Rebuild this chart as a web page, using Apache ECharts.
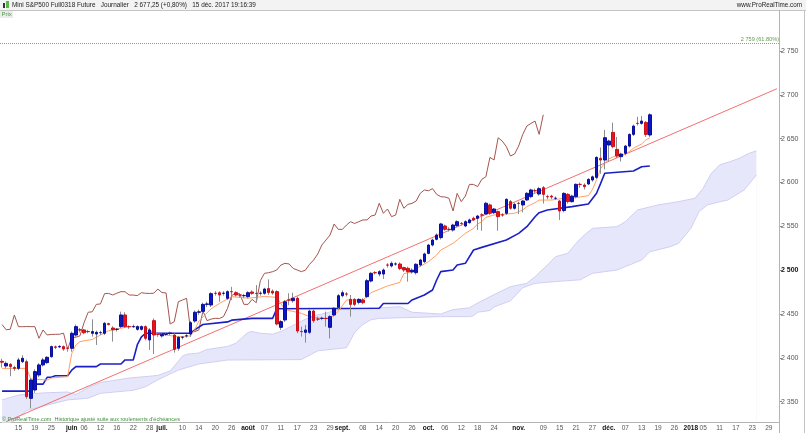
<!DOCTYPE html>
<html><head><meta charset="utf-8">
<script src="https://cdn.jsdelivr.net/npm/echarts@6.0.0/dist/echarts.min.js"></script>
<style>html,body{margin:0;padding:0;background:#fff}#c{width:806px;height:433px}</style>
</head><body><div id="c"></div>
<script>
// ---- data ----
const opens = [2396,2390.7,2392.6,2389,2388,2395.6,2395.6,2353.8,2363.3,2380.4,
2391.9,2394.5,2401.3,2412.5,2412.5,2412.8,2411,2410.9,2426,2432,
2431.8,2430,2428,2427.2,2428.7,2428,2439,2434,2432.5,2435.6,
2448.9,2435.6,2435.6,2432.5,2432.5,2435.6,2420.4,2442.4,2426.8,2425,
2426.8,2428,2426,2410.9,2423.4,2425,2427.2,2442,2452,2453,
2461,2460.3,2473.6,2474.3,2473.6,2467.9,2475.5,2474.3,2471.7,2470.9,
2469.8,2475.1,2473.6,2473.6,2473.6,2479,2476,2475.5,2434.8,2443.2,
2466,2465.2,2467.9,2430,2429.1,2429.1,2453.4,2444.3,2445,2445,
2434.8,2448.9,2457.6,2470.9,2472.8,2466.7,2466.7,2463.3,2466,2469.8,
2487.6,2497.2,2495.6,2495.6,2505.9,2504.8,2507,2507,2502.9,2502.1,
2498,2497.2,2505.9,2509.7,2519.2,2528.7,2535.2,2537.1,2550.4,2546.6,
2545.8,2550.8,2553.4,2550.4,2554.2,2559.2,2559.2,2563,2564.1,2574.4,
2565.6,2566.8,2563,2564.9,2578.2,2570.6,2576.3,2574.4,2580.1,2583.9,
2590.7,2586.9,2594.1,2583.9,2584.5,2582,2578.9,2568,2586.5,2578.2,
2583.9,2597.9,2597.1,2598.3,2602.9,2605.9,2627.6,2625.7,2642.8,2657.2,
2637.8,2629.5,2633.3,2641.6,2654.9,2667.5,2667.5,2668.6,2654.2];
const closes = [2395,2393.7,2390,2388,2397.6,2399.5,2355.7,2374.7,2384.3,2391.9,
2397.6,2400.6,2412.8,2412,2413,2410.1,2410.9,2428,2435.6,2431.8,
2428.7,2429.9,2429.9,2429.1,2428.8,2439.4,2438,2432,2432.6,2448.9,
2435.6,2435.5,2435.7,2435.6,2435.6,2422.3,2431.8,2426.1,2426.7,2426.8,
2426.9,2428.1,2409.7,2423.4,2423.5,2425.1,2440.1,2452,2452.5,2461,
2461.5,2473.2,2473.5,2471.7,2473.7,2475.5,2475.4,2471.7,2471.6,2471,
2474.3,2473.6,2473.5,2473.7,2478.5,2474.5,2474,2438.6,2441.3,2464,
2465.9,2467.9,2430.6,2429.9,2431.8,2453.4,2442.4,2444.2,2445.1,2444.9,
2447,2456.5,2470.9,2474.3,2472.7,2461,2461,2466.7,2462.9,2488,
2496.4,2497.1,2498.3,2500.2,2505.8,2507.8,2507.1,2502,2500.2,2498.3,
2500,2506.7,2511.6,2518.5,2528.7,2534.4,2540.1,2552.7,2546.6,2546.5,
2551.5,2555.3,2553.3,2555.3,2557.3,2557.3,2561.8,2562.9,2576.3,2564.9,
2569.8,2561.1,2562.9,2580.8,2570.6,2575.1,2576.2,2578.9,2587.7,2591.5,
2590.6,2593,2586.5,2583.8,2583.5,2582.1,2567.5,2587.6,2578.2,2584.5,
2597.9,2597.8,2595.3,2603.6,2606.5,2628.7,2625.7,2651.1,2647.3,2640.9,
2630.2,2632.5,2641.6,2654.9,2664.4,2667.4,2670.1,2654.9,2677.25];
const lows = [2389,2388,2379,2385,2386,2394,2353,2342.4,2360,2378,
2390,2393,2400,2410,2411,2408,2407,2407,2424,2429,
2427,2428,2424.2,2414.7,2426,2426,2437,2418.5,2430,2434,
2434,2433,2434,2431,2431,2420,2409,2404.4,2424,2423,
2425,2426,2406,2408,2421,2423,2424,2440,2449,2451,
2458,2458,2471,2464,2471,2466,2466,2470,2469,2468,
2468,2472,2464,2471,2472,2471.7,2472,2437,2431.7,2441,
2460,2463,2428,2424.2,2417.3,2427,2440,2442,2443,2435.6,
2422.2,2447,2455,2469,2470,2447,2459,2461,2461,2468,
2486,2495,2493,2490,2503,2503,2505,2500,2498,2487,
2496,2495,2504,2508,2518,2527,2534,2535,2545,2544,
2544,2549,2551,2549,2553,2556,2545.8,2545,2563,2563,
2564,2545,2561,2563,2569,2569,2564,2566,2579,2582,
2588,2585,2576,2581,2581,2580,2557.3,2566,2576,2577,
2582,2594,2592,2597,2601,2604,2610,2615,2624,2639,
2628,2624,2631,2640,2653,2665,2666,2652,2652];
const highs = [2399,2396,2394,2391,2400,2403,2398,2377,2387,2394,
2400,2402,2414,2414,2414.5,2414,2412,2430,2438,2434,
2433,2432,2443.9,2431,2431,2441,2440,2436,2434,2452.7,
2452,2437,2438,2437,2437,2437,2434,2445,2429,2428,
2428,2430,2428,2425,2425,2427,2442,2454,2455,2463,
2464,2475,2476,2476,2476,2477,2481,2476,2474,2473,
2476,2477,2483,2476,2480,2489.5,2478,2477,2443,2466,
2473.6,2474.3,2470,2435.6,2437.5,2455,2455,2447,2447,2452.7,
2449,2458,2473,2477,2475,2471.7,2468,2468,2468,2490,
2498,2499,2500,2502,2508,2510,2509,2509,2504,2504,
2502,2508,2513,2520,2530,2536,2542,2554,2552,2549,
2553,2557,2555,2557,2559,2561,2563,2565,2578,2576,
2571,2568,2565,2582,2580,2577,2578,2580,2589,2593,
2593,2595,2596,2586,2586,2584,2580,2589,2588,2586,
2599,2600,2599,2605,2608,2630,2640,2660,2649,2668.3,
2652,2634,2643,2656,2666,2675,2675.8,2670,2679];
// Ichimoku lines, vertices [bar index, value]
const tenkanPts = [[0,2388],[6,2388],[7,2376],[11,2374.7],[12,2377],[16,2378.5],[17,2405],[18,2414.7],[19,2418.5],[22,2421],[24,2426],[26,2431],[31,2435.6],[35,2435],[37,2428],[40,2426],[43,2424],[46,2425],[47,2432],[48,2442],[51,2456],[53,2462],[56,2469.8],[60,2468],[64,2470],[67,2469],[69,2455],[73,2450.8],[75,2447],[78,2445],[80,2445],[81,2449],[82,2453],[84,2466],[88,2466],[89,2470],[90,2474.3],[94,2482],[97,2486],[98,2496],[100,2498.3],[101,2502],[103,2507],[104,2509.7],[106,2517.3],[107,2523],[110,2530.6],[111,2534.4],[113,2542],[115,2547.7],[116,2552.7],[117,2555.3],[118,2560.3],[120,2563],[123,2564],[125,2564.9],[127,2568.7],[128,2572.5],[130,2577],[131,2580],[134,2580],[137,2582],[139,2582],[143,2585],[144,2592],[145,2603],[146,2616],[147,2622],[148,2627],[150,2631],[152,2632],[154,2639],[156,2644],[157,2648.5],[158,2651]];
const kijunPts = [[0,2362],[7,2362],[8,2370],[10,2370],[11,2377.8],[12,2377.8],[13,2379.5],[16,2379.5],[17,2386],[18,2390],[23,2390],[24,2393],[29,2393],[30,2397.6],[32,2397.6],[33,2415],[34,2424],[35,2428],[46,2428],[47,2432],[48,2435],[49,2438],[55,2441],[56,2443],[61,2445],[66,2445],[67,2456],[92,2456.5],[93,2462],[99,2462],[100,2466],[103,2471.7],[105,2477.4],[106,2488.8],[107,2498.3],[110,2500.2],[111,2505.9],[113,2507.8],[115,2523],[117,2526],[123,2534.4],[126,2542],[128,2549.6],[130,2561],[131,2565.6],[133,2568.7],[139,2572.5],[143,2575.5],[145,2587.7],[146,2599],[147,2610.5],[154,2613.1],[156,2618],[158,2618.8]];
const cloudTopPts = [[0,2352],[4,2357.6],[10,2360],[16,2361],[18,2358],[21,2366],[24,2372],[27,2374],[31,2377],[36,2379],[38,2380],[41,2385],[43,2396],[44,2402],[45,2404],[48,2405.5],[50,2409.5],[55,2413],[57,2416.6],[59,2425],[60,2429],[61,2430],[63,2428],[66,2427],[68,2430],[71,2437],[74,2444],[77,2449],[79,2451],[82,2455],[86,2456],[90,2457],[92,2457],[97,2458.4],[100,2452],[107,2450],[110,2455],[114,2457],[115,2460],[119,2469.8],[124,2481.2],[128,2485],[130,2492.6],[133,2505.9],[135,2515.4],[138,2519.2],[140,2530.6],[142,2540.1],[144,2547.7],[150,2549.6],[152,2555.3],[155,2568.7],[160,2574.4],[165,2578.2],[169,2582],[171,2593.4],[173,2610.5],[175,2620],[178,2624.5],[180,2628],[182,2633],[184,2636]];
const cloudBotPts = [[0,2322],[3,2328],[6,2340],[16,2352],[21,2354],[24,2359.5],[32,2363],[35,2367],[38,2375],[43,2386],[48,2393],[55,2397.5],[73,2398],[77,2408],[84,2411.5],[85,2420],[86,2429],[88,2438],[90,2443.5],[92,2445],[107,2447],[114,2447],[115,2448],[116,2452],[119,2454],[120,2458],[124,2465],[127,2480],[130,2485],[135,2487],[141,2489],[144,2496.4],[150,2500.2],[152,2504],[156,2511.6],[158,2521],[163,2526.8],[165,2530.6],[168,2547.7],[170,2566.8],[172,2574.4],[175,2578],[177,2580],[179,2585.8],[181,2591.5],[182,2597.2],[183,2602.9],[184,2608.6]];
const trendPts = [[1,2327.2],[189,2707]];
const fibLevel = 2759;
const lastPrice = 2677.25;
const chikouShift = 26;
const tickDates = ['2017-05-15','2017-05-19','2017-05-25','2017-06-01','2017-06-06','2017-06-12','2017-06-16','2017-06-22','2017-06-28','2017-07-03','2017-07-10','2017-07-14','2017-07-20','2017-07-26','2017-08-01','2017-08-07','2017-08-11','2017-08-17','2017-08-23','2017-08-29','2017-09-01','2017-09-08','2017-09-14','2017-09-20','2017-09-26','2017-10-02','2017-10-06','2017-10-12','2017-10-18','2017-10-24','2017-11-01','2017-11-09','2017-11-15','2017-11-21','2017-11-27','2017-12-01','2017-12-07','2017-12-13','2017-12-19','2017-12-26','2018-01-02','2018-01-05','2018-01-11','2018-01-17','2018-01-23','2018-01-29'];
const tickTexts = ['15','19','25','juin','06','12','16','22','28','juil.','10','14','20','26','août','07','11','17','23','29','sept.','08','14','20','26','oct.','06','12','18','24','nov.','09','15','21','27','déc.','07','13','19','26','2018','05','11','17','23','29'];
const boldTicks = ['juin','juil.','août','sept.','oct.','nov.','déc.','2018'];
const holidays = ['2017-12-25','2018-01-01'];

// ---- trading-day categories ----
const dates = [];
{
  let d = new Date(Date.UTC(2017,4,9));
  const end = Date.UTC(2018,0,31);
  while (d.getTime() <= end) {
    const wd = d.getUTCDay();
    const s = d.toISOString().slice(0,10);
    if (wd !== 0 && wd !== 6 && holidays.indexOf(s) < 0) dates.push(s);
    d = new Date(d.getTime() + 86400000);
  }
}
const tickMap = {};
tickDates.forEach((t,i)=>{ tickMap[t] = tickTexts[i]; });

const wickData = opens.map((o,i)=>[o, closes[i], lows[i], highs[i]]);
const bodyData = opens.map((o,i)=>[o, closes[i], Math.min(o,closes[i]), Math.max(o,closes[i])]);
const chikou = closes.slice(chikouShift).map((c,i)=>[i,c]);

const FONT = 'Liberation Sans, Arial, sans-serif';
const chart = echarts.init(document.getElementById('c'), null, {renderer:'canvas'});
chart.setOption({
  animation:false,
  backgroundColor:'#ffffff',
  grid:{left:0,right:27,top:20,bottom:11,containLabel:false},
  xAxis:{type:'category',data:dates,boundaryGap:true,
    axisLine:{show:true,lineStyle:{color:'#b4b4b4',width:1}},
    axisTick:{show:false},splitLine:{show:false},
    axisLabel:{interval:(i,v)=>tickMap[v]!==undefined, margin:3, fontSize:6.5, fontFamily:FONT, color:'#555',
      formatter:v=>{const t=tickMap[v]; return boldTicks.indexOf(t)>=0 ? '{b|'+t+'}' : t;},
      rich:{b:{fontWeight:'bold',color:'#111',fontSize:6.5,fontFamily:FONT}}}
  },
  yAxis:{type:'value',position:'right',min:2326.8,max:2785.4,splitNumber:9,scale:true,
    axisLine:{show:true,lineStyle:{color:'#b4b4b4'}},
    axisTick:{show:true,length:3,lineStyle:{color:'#888'}},
    splitLine:{show:false},
    axisLabel:{margin:2,fontSize:7,fontFamily:FONT,color:'#555',showMinLabel:false,showMaxLabel:false,
      formatter:v=>{const s=String(v).replace(/(\d)(\d{3})$/,'$1 $2'); return v===2500?'{b|'+s+'}':s;},
      rich:{b:{fontWeight:'bold',color:'#111',fontSize:7,fontFamily:FONT}}}
  },
  series:[
    {type:'line',data:cloudTopPts,symbol:'none',z:1,silent:true,
      lineStyle:{color:'#cfcff3',width:1},areaStyle:{color:'#e7e7fb',origin:'start',opacity:1}},
    {type:'line',data:cloudBotPts,symbol:'none',z:2,silent:true,
      lineStyle:{color:'#cfcff3',width:1},areaStyle:{color:'#ffffff',origin:'start',opacity:1}},
    {type:'line',data:trendPts,symbol:'none',z:3,lineStyle:{color:'#f27070',width:1}},
    {type:'line',data:chikou,symbol:'none',z:4,lineStyle:{color:'#a5554f',width:1}},
    {type:'line',data:kijunPts,symbol:'none',z:5,lineStyle:{color:'#1b20c6',width:1.6}},
    {type:'line',data:tenkanPts,symbol:'none',z:6,lineStyle:{color:'#ffa063',width:1}},
    {type:'candlestick',data:wickData,barWidth:1,z:7,
      itemStyle:{color:'#8c8c8c',color0:'#8c8c8c',borderColor:'#8c8c8c',borderColor0:'#8c8c8c',borderWidth:1}},
    {type:'candlestick',data:bodyData,barWidth:3,z:8,
      itemStyle:{color:'#0c16c4',color0:'#e8121c',borderColor:'#0a0f9a',borderColor0:'#c8101a',borderWidth:1},
      markLine:{symbol:['none','none'],silent:true,animation:false,
        data:[
          {yAxis:fibLevel,lineStyle:{type:'dotted',color:'#e07a7a',width:1},
            label:{show:true,position:'insideEndTop',distance:[0,1],formatter:'2 759 (61.80%)',fontSize:5.6,fontFamily:FONT,color:'#5f9a4f'}},
          {yAxis:lastPrice,lineStyle:{opacity:0},
            label:{show:true,position:'end',distance:4,formatter:'2 677,25',fontSize:7,fontFamily:FONT,color:'#333',
              backgroundColor:'#f3d54a',padding:[1,1]}}
        ]}
    }
  ],
  graphic:[
    {type:'rect',shape:{x:0,y:0,width:806,height:10},style:{fill:'#f3f3f3'},z:10},
    {type:'line',shape:{x1:0,y1:10.5,x2:806,y2:10.5},style:{stroke:'#c4c4c4',lineWidth:1},z:10},
    {type:'rect',shape:{x:3,y:3,width:2,height:5},style:{fill:'#333'},z:11},
    {type:'rect',shape:{x:6,y:1,width:3,height:7},style:{fill:'#5ab84a'},z:11},
    {type:'text',x:12,y:5,style:{text:'Mini S&P500 Full0318 Future   Journalier   2 677,25 (+0,80%)   15 déc. 2017 19:16:39',
      font:'6.4px '+FONT,fill:'#222',verticalAlign:'middle'},z:11},
    {type:'text',x:802,y:5,style:{text:'www.ProRealTime.com',font:'6.3px '+FONT,fill:'#222',align:'right',verticalAlign:'middle'},z:11},
    {type:'rect',shape:{x:0,y:11,width:13,height:7},style:{fill:'#ececec'},z:11},
    {type:'text',x:1.5,y:14.5,style:{text:'Prix',font:'6px '+FONT,fill:'#4f9a4a',verticalAlign:'middle'},z:12},
    {type:'line',shape:{x1:779.5,y1:10,x2:779.5,y2:433},style:{stroke:'#b4b4b4',lineWidth:1},z:10},
    {type:'line',shape:{x1:804.5,y1:10,x2:804.5,y2:433},style:{stroke:'#c4c4c4',lineWidth:1},z:10},
    {type:'text',x:2,y:419,style:{text:'© ProRealTime.com  Historique ajusté suite aux roulements d\'échéances',
      font:'5.5px '+FONT,fill:'#3f8f3a',verticalAlign:'middle'},z:11}
  ]
});
</script></body></html>
